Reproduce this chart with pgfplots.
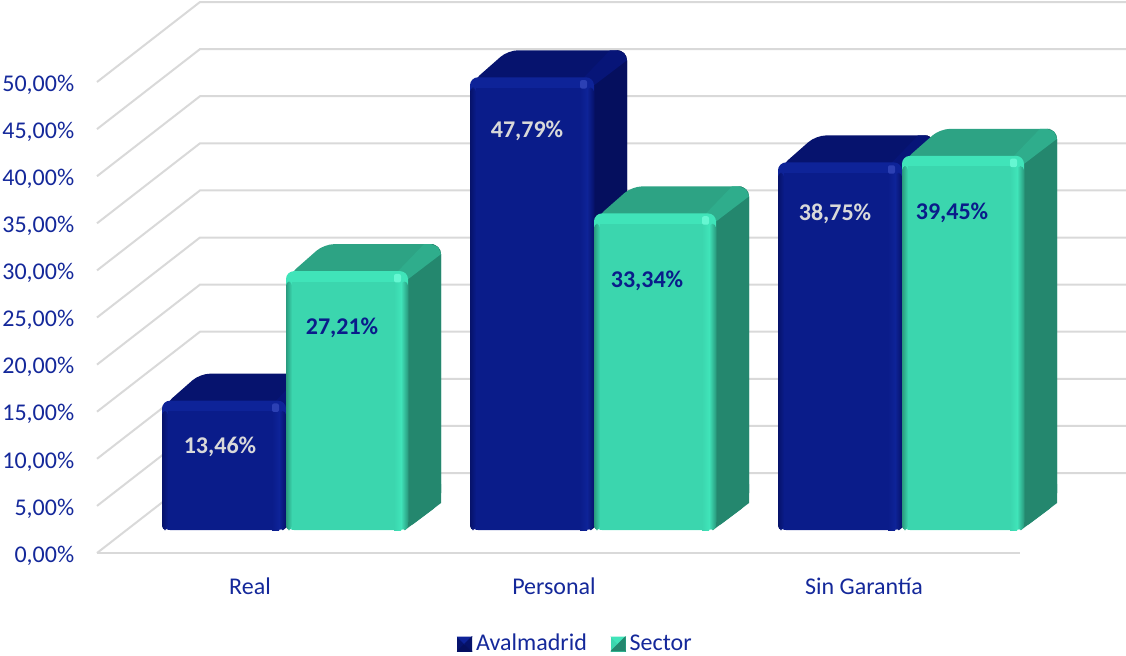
\documentclass[border=0pt]{standalone}
\usepackage{pgfplots}
\pgfplotsset{compat=1.18}
\usepackage{fontspec}
\setmainfont{Carlito}
\definecolor{txt}{HTML}{14289A}
\definecolor{gridc}{HTML}{D9D9D9}
\definecolor{Afront}{HTML}{0A1C8A}
\definecolor{Aband}{HTML}{0E2398}
\definecolor{Adark}{HTML}{06126A}
\definecolor{Atop}{HTML}{06136E}
\definecolor{Aside}{HTML}{050F5E}
\definecolor{Aridge}{HTML}{071578}
\definecolor{Ahi}{HTML}{2C40B4}
\definecolor{Sfront}{HTML}{3BD6AE}
\definecolor{Sband}{HTML}{40E4B9}
\definecolor{Sdark}{HTML}{2A9A7E}
\definecolor{Stop}{HTML}{2DA384}
\definecolor{Sside}{HTML}{24876E}
\definecolor{Sridge}{HTML}{2FAD8C}
\definecolor{Shi}{HTML}{66F7D2}
% x0, x1, value, colour prefix
\newcommand\threedbar[4]{%
  \pgfmathsetmacro\yb{(553-530)/9.42}%
  \pgfmathsetmacro\yt{#3+\yb+0.27}%
  \pgfmathsetmacro\dy{27/9.42}%
  \pgfmathsetmacro\ytb{\yt+\dy}%
  \pgfmathsetmacro\ybb{\yb+\dy}%
  \pgfmathsetmacro\ybp{\ybb+2}%
  \pgfmathsetmacro\ypp{\yb+2}%
  \pgfmathsetmacro\xl{#1+2}%
  \pgfmathsetmacro\xlb{#1+38}%
  \pgfmathsetmacro\xr{#2-3}%
  \pgfmathsetmacro\xrb{#2+33}%
  \pgfmathsetmacro\xrm{#2+30.1}%
  \pgfmathsetmacro\xrn{#2+23}%
  \pgfmathsetmacro\rda{#2-10}%
  \pgfmathsetmacro\rdb{#2+16}%
  \pgfmathsetmacro\yba{\yt-1.1}%
  \pgfmathsetmacro\xla{#1+6}%
  \pgfmathsetmacro\xra{#2-14}%
  \pgfmathsetmacro\xrc{#2-7}%
  \pgfmathsetmacro\hla{#2-14}%
  \pgfmathsetmacro\hlb{#2-7}%
  \pgfmathsetmacro\hya{\yt-1.2}%
  \pgfmathsetmacro\hyb{\yt-0.3}%
  \pgfmathsetmacro\yrm{\ytb-0.31}%
  \pgfmathsetmacro\yrd{\ytb-1.06}%
  \pgfmathsetmacro\ytd{\yt-0.5}%
  \addplot[forget plot,draw=none,fill=#4top,rounded corners=5pt] coordinates {(\xl,\ytd) (\xlb,\ytb) (\xrb,\ytb) (\xrb,\ybb) (\xr,\yb)} -- cycle;
  \addplot[forget plot,draw=none,fill=#4side,rounded corners=5pt] coordinates {(\xr,\yt) (\rdb,\ytb) (\xrb,\ytb) (\xrb,\ybb) (\xr,\yb)} -- cycle;
  \addplot[forget plot,draw=none,fill=#4side] coordinates {(\xr,\yb) (\xrb,\ybb) (\xrb,\ybp) (\xr,\ypp)} -- cycle;
  \addplot[forget plot,draw=none,fill=#4ridge] coordinates {(\rda,\yt) (\rdb,\ytb) (\xrn,\ytb) (\xrm,\yrm) (\xrb,\yrd) (\xr,\yba)} -- cycle;
  \addplot[forget plot,draw=none,fill=#4band,rounded corners=4pt] coordinates {(#1,\yb) (#1,\yt) (#2,\yt) (#2,\yb)} -- cycle;
  \addplot[forget plot,draw=none,fill=#4front] coordinates {(\xla,\yb) (\xla,\yba) (\xra,\yba) (\xra,\yb)} -- cycle;
  \addplot[forget plot,draw=none,left color=#4dark,right color=#4front,rounded corners=2pt] coordinates {(#1,\yb) (#1,\yba) (\xla,\yba) (\xla,\yb)} -- cycle;
  \addplot[forget plot,draw=none,left color=#4front,right color=#4band] coordinates {(\xra,\yb) (\xra,\yba) (\xrc,\yba) (\xrc,\yb)} -- cycle;
  \addplot[forget plot,draw=none,left color=#4band,right color=#4dark,rounded corners=2pt] coordinates {(\xrc,\yb) (\xrc,\yba) (#2,\yba) (#2,\yb)} -- cycle;
  \addplot[forget plot,draw=none,fill=#4hi,rounded corners=1pt] coordinates {(\hla,\hya) (\hla,\hyb) (\hlb,\hyb) (\hlb,\hya)} -- cycle;
}
\begin{document}
\begin{tikzpicture}
\begin{axis}[
  scale only axis, width=563pt, height=327.5pt,
  xmin=0, xmax=1126,
  ymin=-10.828, ymax=58.705,
  clip=false,
  axis line style={draw=none},
  major tick length=0pt,
  tick style={draw=none},
  ytick={0,5,...,50},
  xtick={250,554,864},
  xticklabels={Real,Personal,Sin Garantía},
  /pgf/number format/assume math mode=true,
  yticklabel={\pgfmathprintnumber[fixed,fixed zerofill,precision=2,use comma]{\tick}\%},
  yticklabel style={anchor=east,inner sep=0pt,xshift=37.3pt,yshift=-1.3pt},
  xticklabel style={anchor=center,inner sep=0pt,yshift=34.5pt},
  tick label style={font=\fontsize{12}{14}\selectfont,text=txt},
  legend style={at={(576.5/1126,11/655)},anchor=center,draw=none,fill=none,
    font=\fontsize{12}{14}\selectfont,text=txt,legend columns=2,
    /tikz/every even column/.append style={column sep=10pt},inner sep=0pt},
  legend cell align=left,
]
% grid
\pgfplotsinvokeforeach{0,5,...,50}{%
  \pgfmathsetmacro\gb{#1+80/9.42}%
  \addplot[forget plot,gridc,line width=1pt] coordinates {(97,#1) (200,\gb) (1126,\gb)};
}
\addplot[forget plot,gridc,line width=1pt] coordinates {(97,0) (1020,0)};
% bars
\threedbar{162}{286}{13.46}{A}
\threedbar{286}{408}{27.21}{S}
\threedbar{470}{594}{47.79}{A}
\threedbar{594}{716}{33.34}{S}
\threedbar{778}{902}{38.75}{A}
\threedbar{902}{1024}{39.45}{S}
% labels
\node[font=\bfseries\fontsize{12}{14}\selectfont,text=gridc,yshift=-0.8pt] at (axis cs:220,{(553-445)/9.42}) {13,46\%};
\node[font=\bfseries\fontsize{12}{14}\selectfont,text=gridc,yshift=-0.8pt] at (axis cs:527,{(553-129)/9.42}) {47,79\%};
\node[font=\bfseries\fontsize{12}{14}\selectfont,text=gridc,yshift=-0.8pt] at (axis cs:835,{(553-212)/9.42}) {38,75\%};
\node[font=\bfseries\fontsize{12}{14}\selectfont,text=Afront,yshift=-0.8pt] at (axis cs:342,{(553-326)/9.42}) {27,21\%};
\node[font=\bfseries\fontsize{12}{14}\selectfont,text=Afront,yshift=-0.8pt] at (axis cs:647,{(553-279)/9.42}) {33,34\%};
\node[font=\bfseries\fontsize{12}{14}\selectfont,text=Afront,yshift=-0.8pt] at (axis cs:952,{(553-211)/9.42}) {39,45\%};
% legend
\addlegendimage{legend image code/.code={
  \fill[Atop] (0,-3.5pt) rectangle (7pt,3.5pt);
  \fill[Aside] (0,-3.5pt) -- (3.5pt,0) -- (7pt,-3.5pt) -- cycle;
  \fill[Aband] (0,3.5pt) -- (3.5pt,0) -- (7pt,3.5pt) -- cycle;
  \fill[Adark] (7pt,3.5pt) -- (3.5pt,0) -- (7pt,-3.5pt) -- cycle;
}}
\addlegendentry{Avalmadrid}
\addlegendimage{legend image code/.code={
  \fill[Sfront] (0,-3.5pt) rectangle (7pt,3.5pt);
  \fill[Sside] (0,-3.5pt) -- (3.5pt,0) -- (7pt,-3.5pt) -- cycle;
  \fill[Sband] (0,3.5pt) -- (3.5pt,0) -- (7pt,3.5pt) -- cycle;
  \fill[Sside] (7pt,3.5pt) -- (3.5pt,0) -- (7pt,-3.5pt) -- cycle;
}}
\addlegendentry{Sector}
\end{axis}
\pgfresetboundingbox
\path[use as bounding box] (0,0) rectangle (563pt,327.5pt);
\end{tikzpicture}
\end{document}
